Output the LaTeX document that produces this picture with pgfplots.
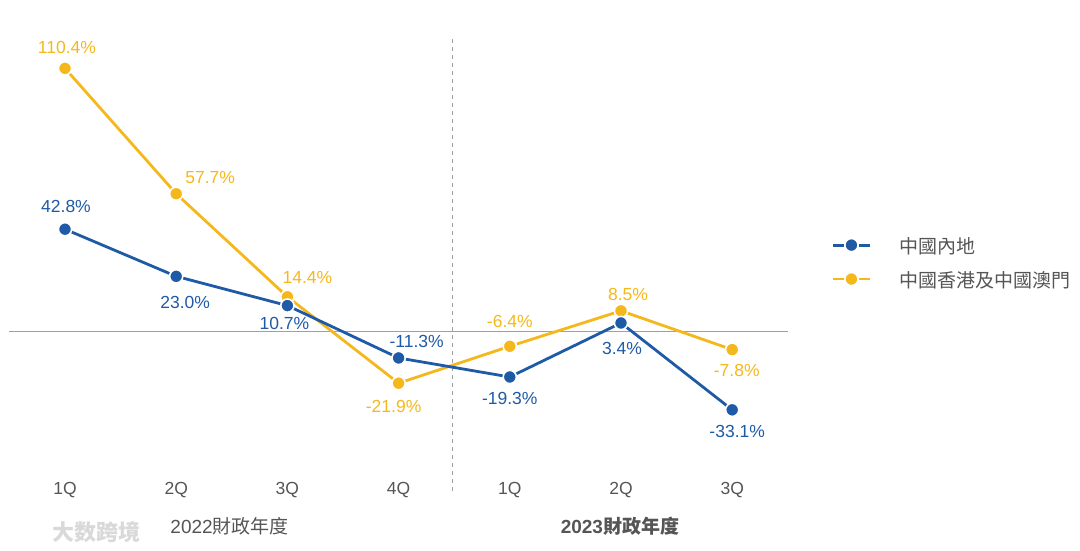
\documentclass[border=0pt]{standalone}
\usepackage{fontspec}
\setmainfont{Liberation Sans}
\newfontfamily\cjk{Noto Sans CJK TC}
\newfontfamily\cjksc{Noto Sans CJK SC}
\usepackage{pgfplots}
\pgfplotsset{compat=1.18}
\usepackage{pgfplotstable}

\definecolor{cblue}{HTML}{1F5AA6}
\definecolor{cyel}{HTML}{F5B81C}
\definecolor{tgray}{HTML}{555555}
\definecolor{lgray}{HTML}{A0A0A0}

% x: quarter index, y: growth in %, lab: printed label, dx/dy: label offset (pt)
\pgfplotstableread{
x y lab dx dy
0 42.8 42.8 1 22.5
1 23.0 23.0 9 -26
2 10.7 10.7 -3 -18
3 -11.3 -11.3 18 16
4 -19.3 -19.3 0 -21
5 3.4 3.4 1 -26
6 -33.1 -33.1 5 -22
}\mainland

\pgfplotstableread{
x y lab dx dy
0 110.4 110.4 2 21
1 57.7 57.7 34 16
2 14.4 14.4 20 19
3 -21.9 -21.9 -5 -23
4 -6.4 -6.4 0 25
5 8.5 8.5 7 16
6 -7.8 -7.8 4.5 -21
}\hkmo

\pgfplotsset{
  qmarks/.style={
    #1, line width=2.8pt,
    mark=*, mark size=6.6pt,
    mark options={solid, fill=#1, draw=white, line width=1.6pt},
  },
  qlabels/.style={
    nodes near coords={\pgfplotspointmeta\%},
    point meta=explicit symbolic,
    visualization depends on={\thisrow{dx} \as \labdx},
    visualization depends on={\thisrow{dy} \as \labdy},
    every node near coord/.append style={anchor=center, xshift=\labdx pt, yshift=\labdy pt,
      font=\fontsize{17.5}{20}\selectfont, inner sep=0pt, text=#1},
  },
}

\begin{document}
\begin{tikzpicture}
\useasboundingbox (0,0) rectangle (1080pt,550pt);
\begin{axis}[
    at={(9.4pt,59.5pt)}, anchor=south west,
    scale only axis, width=778.4pt, height=455pt,
    xmin=-0.5, xmax=6.5, ymin=-67, ymax=124.2,
    axis lines=none, clip=false,
    xtick=\empty, ytick=\empty,
    legend cell align=left,
    legend image code/.code={
      \draw[#1, mark repeat=2, mark phase=2, dash pattern=on 10.3pt off 15.7pt on 10.3pt]
        plot coordinates {(0pt,0pt) (18.15pt,0pt) (36.3pt,0pt)};
      \path[draw=none, fill=none] (0pt,0pt) -- (66pt,0pt);
    },
    legend style={at={(axis description cs:1.0564,0.502)}, anchor=west,
      draw=none, fill=none, inner sep=0pt, row sep=18pt,
      nodes={inner sep=0pt, text depth=0pt, text=tgray, font=\cjk\fontsize{19}{22}\selectfont}},
]
% zero line and year separator
\draw[lgray, line width=1pt] (axis cs:-0.5,0) -- (axis cs:6.5,0);
\draw[lgray, line width=0.9pt, dash pattern=on 4pt off 4pt] (axis cs:3.48,-67) -- (axis cs:3.48,124.2);

\addplot[qmarks=cyel, qlabels=cyel, forget plot] table[x=x, y=y, meta=lab] {\hkmo};
\addplot[qmarks=cblue, qlabels=cblue, forget plot] table[x=x, y=y, meta=lab] {\mainland};

\addlegendimage{qmarks=cblue}
\addlegendentry{中國內地}
\addlegendimage{qmarks=cyel}
\addlegendentry{中國香港及中國澳門}

% quarter labels
\node[text=tgray, font=\fontsize{17.5}{20}\selectfont] at (axis cs:0,-67) {1Q};
\node[text=tgray, font=\fontsize{17.5}{20}\selectfont] at (axis cs:1,-67) {2Q};
\node[text=tgray, font=\fontsize{17.5}{20}\selectfont] at (axis cs:2,-67) {3Q};
\node[text=tgray, font=\fontsize{17.5}{20}\selectfont] at (axis cs:3,-67) {4Q};
\node[text=tgray, font=\fontsize{17.5}{20}\selectfont] at (axis cs:4,-67) {1Q};
\node[text=tgray, font=\fontsize{17.5}{20}\selectfont] at (axis cs:5,-67) {2Q};
\node[text=tgray, font=\fontsize{17.5}{20}\selectfont] at (axis cs:6,-67) {3Q};
% fiscal year labels
\node[text=tgray, font=\fontsize{19}{22}\selectfont] at (axis cs:1.48,-82.1) {2022{\cjk 財政年度}};
\node[text=tgray, font=\bfseries\fontsize{19}{22}\selectfont] at (axis cs:4.99,-82.1) {2023{\cjk\bfseries 財政年度}};
% watermark
\node[text=lgray!40, font=\cjksc\bfseries\fontsize{22}{24}\selectfont] at (axis cs:0.28,-84.5) {大数跨境};
\end{axis}
\end{tikzpicture}
\end{document}
